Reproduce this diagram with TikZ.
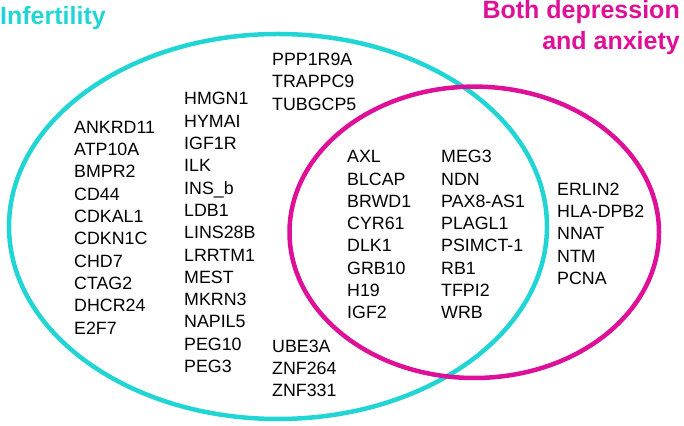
\documentclass[tikz,border=0pt]{standalone}
\usepackage{fontspec}
\setmainfont{Liberation Sans}
\usepackage{tikz}
\usetikzlibrary{positioning}
\definecolor{infCyan}{RGB}{34,213,213}
\definecolor{bothMagenta}{RGB}{222,16,152}

\begin{document}
\begin{tikzpicture}[x=1pt, y=1pt,
    genes/.style={anchor=base west, inner sep=0pt, align=left,
      font=\fontsize{17.8}{22.3}\selectfont},
    setname/.style={inner sep=0pt, font=\fontsize{25}{31.7}\selectfont\bfseries}]
      \useasboundingbox (0,0) rectangle (684,425);

      % 不妊の楕円
      \draw[infCyan, line width=4.5pt] (278,198.5) ellipse (269 and 192.5);
      % うつと不安の楕円
      \draw[bothMagenta, line width=4.5pt] (474.25,192.7) ellipse (184.75 and 145.7);

      % 集合の名前 (複数行のノードは最終行のベースラインで置く)
      \node[setname, anchor=base west, text=infCyan] (infTitle) at (0,400) {Infertility};
      \node[setname, anchor=base east, align=right, text=bothMagenta] (bothTitle) at (680,375)
        {Both depression\\and anxiety};

      % 不妊のみの遺伝子
      \node[genes] (infCol1) at (74,90.9)
        {ANKRD11\\ATP10A\\BMPR2\\CD44\\CDKAL1\\CDKN1C\\CHD7\\CTAG2\\DHCR24\\E2F7};
      \node[genes] (infCol2) at (184,52.4)
        {HMGN1\\HYMAI\\IGF1R\\ILK\\INS\_b\\LDB1\\LINS28B\\LRRTM1\\MEST\\MKRN3\\NAPIL5\\PEG10\\PEG3};
      \node[genes] (infTop) at (272,314.9) {PPP1R9A\\TRAPPC9\\TUBGCP5};
      \node[genes] (infBottom) at (272,28.1) {UBE3A\\ZNF264\\ZNF331};

      % 共通の遺伝子
      \node[genes] (commonCol1) at (347,106.1)
        {AXL\\BLCAP\\BRWD1\\CYR61\\DLK1\\GRB10\\H19\\IGF2};
      \node[genes] (commonCol2) at (441,106.1)
        {MEG3\\NDN\\PAX8-AS1\\PLAGL1\\PSIMCT-1\\RB1\\TFPI2\\WRB};

      % うつと不安のみの遺伝子
      \node[genes] (bothCol) at (557,140.4) {ERLIN2\\HLA-DPB2\\NNAT\\NTM\\PCNA};
    \end{tikzpicture}
\end{document}
